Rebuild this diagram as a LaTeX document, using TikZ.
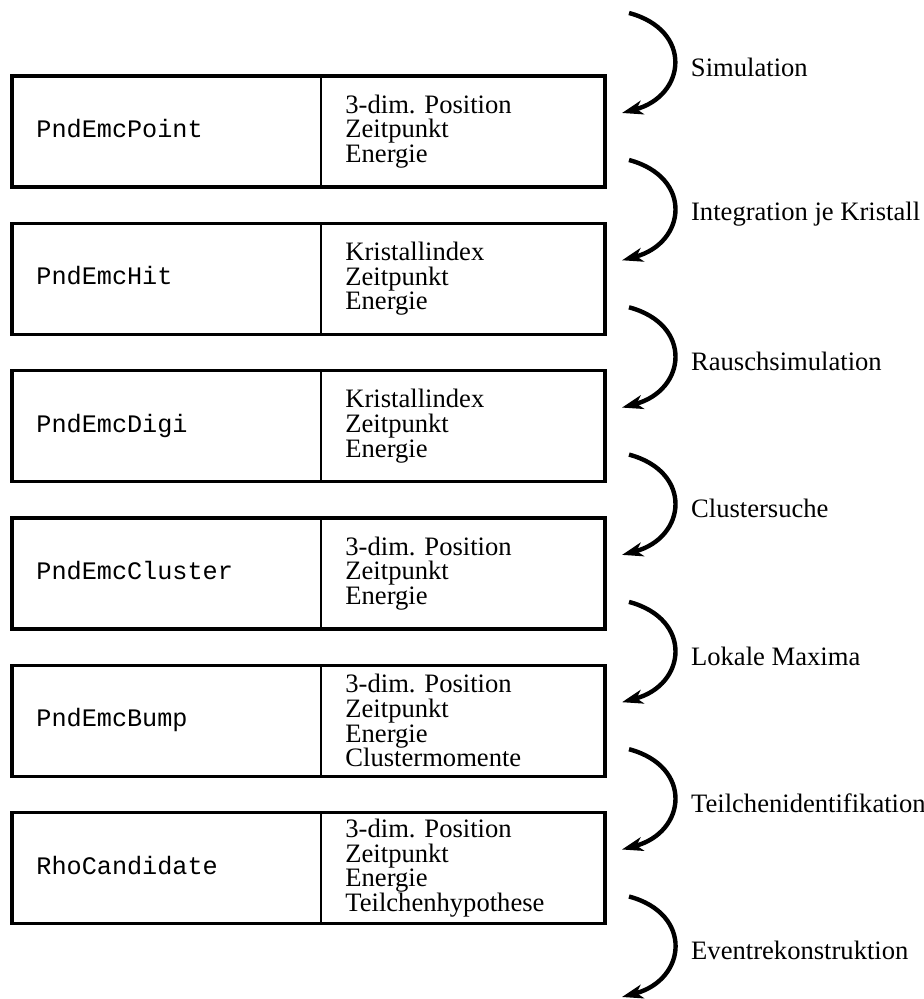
\documentclass[tikz,border=0pt]{standalone}
\usepackage{fontspec}
\setmainfont{Liberation Serif}
\setmonofont{Liberation Mono}
\usepackage{tikz}
\usetikzlibrary{arrows.meta,positioning,calc}

\tikzset{
  objbox/.style={draw, line width=1.6pt, minimum width=296.5pt, minimum height=55.5pt, outer sep=0pt, inner sep=0pt},
  clsname/.style={anchor=base west, inner sep=0pt, font=\fontsize{12.6}{12.6}\selectfont\ttfamily},
  attrs/.style={anchor=west, align=left, inner sep=0pt, font=\fontsize{13.3}{12.3}\selectfont},
  flow/.style={line width=2.2pt, -{Stealth[length=10.5pt,width=7pt,inset=3pt]}},
  steplabel/.style={right, xshift=4.2pt, yshift=-2pt, font=\fontsize{13.3}{13.3}\selectfont},
}

\begin{document}
\begin{tikzpicture}[x=0.5pt, y=-0.5pt]
  \useasboundingbox (0,0) rectangle (924,999);
  % data objects
  \node[objbox] (point) at (308.5,131.5) {};
  \node[objbox, below=18.15pt of point] (hit) {};
  \node[objbox, below=18.15pt of hit] (digi) {};
  \node[objbox, below=18.15pt of digi] (cluster) {};
  \node[objbox, below=18.15pt of cluster] (bump) {};
  \node[objbox, below=18.15pt of bump] (rho) {};
  \foreach \obj/\cls/\info in {
      point/PndEmcPoint/{3-dim. Position\\Zeitpunkt\\Energie},
      hit/PndEmcHit/{Kristallindex\\Zeitpunkt\\Energie},
      digi/PndEmcDigi/{Kristallindex\\Zeitpunkt\\Energie},
      cluster/PndEmcCluster/{3-dim. Position\\Zeitpunkt\\Energie},
      bump/PndEmcBump/{3-dim. Position\\Zeitpunkt\\Energie\\Clustermomente},
      rho/RhoCandidate/{3-dim. Position\\Zeitpunkt\\Energie\\Teilchenhypothese}} {
    \draw[line width=1.2pt] ($(\obj.north west)+(309,0)$) -- ($(\obj.south west)+(309,0)$);
    \node[clsname] (\obj-name) at ($(\obj.west)+(24,6)$) {\cls};
    \node[attrs] (\obj-info) at ($(\obj.west)+(333,0)$) {\info};
  }
  % processing steps
  \coordinate (start) at (629,13);
  \coordinate (finish) at (622,997);
  \draw[flow] (start) to[out=-15,in=15,looseness=1.7]
    node[steplabel] {Simulation} ($(point.north east)+(17,37)$);
  \draw[flow] ($(point.south east)+(24,-27)$) to[out=-15,in=15,looseness=1.7]
    node[steplabel] {Integration je Kristall} ($(hit.north east)+(17,37)$);
  \draw[flow] ($(hit.south east)+(24,-27)$) to[out=-15,in=15,looseness=1.7]
    node[steplabel] {Rauschsimulation} ($(digi.north east)+(17,37)$);
  \draw[flow] ($(digi.south east)+(24,-27)$) to[out=-15,in=15,looseness=1.7]
    node[steplabel] {Clustersuche} ($(cluster.north east)+(17,37)$);
  \draw[flow] ($(cluster.south east)+(24,-27)$) to[out=-15,in=15,looseness=1.7]
    node[steplabel] {Lokale Maxima} ($(bump.north east)+(17,37)$);
  \draw[flow] ($(bump.south east)+(24,-27)$) to[out=-15,in=15,looseness=1.7]
    node[steplabel] {Teilchenidentifikation} ($(rho.north east)+(17,37)$);
  \draw[flow] ($(rho.south east)+(24,-27)$) to[out=-15,in=15,looseness=1.7]
    node[steplabel] {Eventrekonstruktion} (finish);
\end{tikzpicture}
\end{document}
